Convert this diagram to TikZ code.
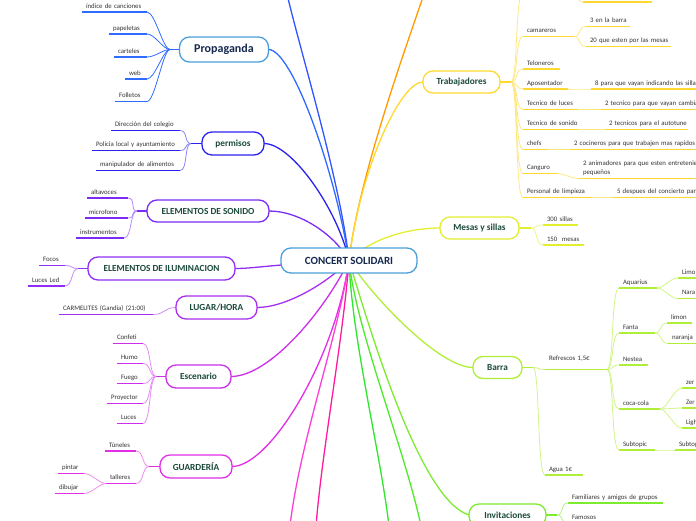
\documentclass[tikz,border=0pt]{standalone}
\usepackage{fontspec}
\setmainfont{Carlito}
\pgfdeclarelayer{bg}
\pgfsetlayers{bg,main}
\definecolor{navy}{HTML}{15294F}
\definecolor{topictxt}{HTML}{1B4A3B}
\definecolor{leaftxt}{HTML}{333333}
\definecolor{cC}{HTML}{4A9FD8}
\definecolor{cProp}{HTML}{2F6BFF}
\definecolor{cPerm}{HTML}{2A22EE}
\definecolor{cSon}{HTML}{7A2CF5}
\definecolor{cIlu}{HTML}{912EF5}
\definecolor{cLug}{HTML}{A82EF0}
\definecolor{cEsc}{HTML}{CC2EEA}
\definecolor{cGua}{HTML}{E22EE6}
\definecolor{cTra}{HTML}{FFD92E}
\definecolor{cMes}{HTML}{E2EF30}
\definecolor{cBar}{HTML}{B0EE38}
\definecolor{cInv}{HTML}{7DEB2E}
\definecolor{cBlue}{HTML}{3355FF}
\definecolor{cOrange}{HTML}{FF9A00}
\definecolor{cPink}{HTML}{FF3DD8}
\definecolor{cPinkB}{HTML}{FF1A9E}
\definecolor{cGreen}{HTML}{2EE62E}
\definecolor{cGreenB}{HTML}{4EEA2A}
\newcommand\topicfont{\bfseries\fontsize{9.3}{11}\selectfont}
\newcommand\leaffont{\fontsize{6.8}{8}\selectfont}
\tikzset{
  topic/.style={rounded corners=10pt, fill=white, line width=1.3pt, draw, text=topictxt, font=\topicfont, inner sep=0pt, outer sep=0pt},
  leaf/.style={anchor=south west, font=\leaffont, text=leaftxt, inner xsep=4pt, inner ysep=2.5pt, text height=5pt, text depth=1.5pt, align=left, outer sep=0pt, execute at begin node={\hbox\bgroup}, execute at end node={\egroup}},
  ul/.style={line width=1.8pt},
  twig/.style={line width=0.8pt},
  mainc/.style={line width=1.3pt},
}
% #1 extra options, #2 colour, #3 name, #4 x1, #5 x2, #6 y, #7 text
\newcommand\mmleaf[7][]{%
  \pgfmathsetmacro\mmw{#5-#4-8}%
  \node[leaf, text width=\mmw pt, #1] (#3) at (#4,#6) {#7};
  \draw[ul,#2] (#3.south west) -- (#3.south east);
}
\newcommand\twigL[3]{\draw[twig,#1] (#2) .. controls +(-7,0) and +(8,0) .. (#3.south east);}
\newcommand\twigR[3]{\draw[twig,#1] (#2) .. controls +(7,0) and +(-8,0) .. (#3.south west);}
\begin{document}
\begin{tikzpicture}[x=1pt,y=-1pt]
\useasboundingbox (0,0) rectangle (696,520);
\clip (0,0) rectangle (696,520);

% ---------- topics ----------
\node[topic, draw=cC, text=navy, font=\bfseries\fontsize{11}{13}\selectfont, minimum width=136pt, minimum height=25pt] (c) at (349,260.5) {CONCERT SOLIDARI};
\node[topic, draw=cC, text=navy, font=\bfseries\fontsize{12}{14}\selectfont, minimum width=89pt, minimum height=25pt] (prop) at (224,49.5) {Propaganda};
\node[topic, draw=cPerm, minimum width=62pt, minimum height=23pt] (perm) at (233,143.5) {permisos};
\node[topic, draw=cSon, minimum width=122pt, minimum height=22pt] (son) at (208,211) {ELEMENTOS DE SONIDO};
\node[topic, draw=cIlu, minimum width=147pt, minimum height=23pt] (ilu) at (161.5,268.5) {ELEMENTOS DE ILUMINACION};
\node[topic, draw=cLug, minimum width=81pt, minimum height=23pt] (lug) at (216.5,307.5) {LUGAR/HORA};
\node[topic, draw=cEsc, minimum width=65pt, minimum height=23pt] (esc) at (198.5,376.5) {Escenario};
\node[topic, draw=cGua, minimum width=72pt, minimum height=23pt] (gua) at (196,466.5) {GUARDERÍA};
\node[topic, draw=cTra, minimum width=77pt, minimum height=22pt] (tra) at (461.5,82) {Trabajadores};
\node[topic, draw=cMes, minimum width=79pt, minimum height=22pt] (mes) at (479.5,228) {Mesas y sillas};
\node[topic, draw=cBar, minimum width=49pt, minimum height=22pt] (bar) at (497.5,367.5) {Barra};
\node[topic, draw=cInv, minimum width=77pt, minimum height=22pt] (inv) at (507.5,515) {Invitaciones};

% ---------- fan points and off-screen ends ----------
\coordinate (propf) at (170,49.5);
\coordinate (permf) at (191,143.5);
\coordinate (sonf) at (137,211);
\coordinate (iluf) at (78,268.5);
\coordinate (escf) at (156,376.5);
\coordinate (guaf) at (149,466.5);
\coordinate (traf) at (511,82);
\coordinate (mesf) at (531,228);
\coordinate (barf) at (533,367.5);
\coordinate (invf) at (557,515);
\coordinate (offBlue) at (287,-6);
\coordinate (offOrange) at (424,-6);
\coordinate (offPink) at (290,526);
\coordinate (offPinkB) at (316,526);
\coordinate (offGreen) at (389,526);
\coordinate (offGreenB) at (421,526);

% ---------- leaves ----------
\mmleaf{cProp}{p1}{82}{147}{12}{índice de canciones}
\mmleaf{cProp}{p2}{109}{147}{34}{papeletas}
\mmleaf{cProp}{p3}{114}{147}{57}{carteles}
\mmleaf{cProp}{p4}{125}{147}{79}{web}
\mmleaf{cProp}{p5}{115}{147}{101.5}{Folletos}

\mmleaf{cPerm}{pm1}{111}{180}{130.5}{Dirección del colegio}
\mmleaf{cPerm}{pm2}{92}{180}{150.5}{Policia local y ayuntamiento}
\mmleaf{cPerm}{pm3}{96}{180}{170.5}{manipulador de alimentos}

\mmleaf{cSon}{so1}{87}{128}{198}{altavoces}
\mmleaf{cSon}{so2}{85}{128}{218}{microfono}
\mmleaf{cSon}{so3}{76}{124}{238}{instrumentos}

\mmleaf{cIlu}{il1}{39}{65}{265.5}{Focos}
\mmleaf{cIlu}{il2}{28}{65}{286}{Luces Led}

\mmleaf{cLug}{lg1}{59}{153}{314.5}{CARMELITES (Gandia) (21:00)}

\mmleaf{cEsc}{es1}{113}{143}{343.5}{Confeti}
\mmleaf{cEsc}{es2}{117}{143}{363.5}{Humo}
\mmleaf{cEsc}{es3}{117}{143}{383.5}{Fuego}
\mmleaf{cEsc}{es4}{107}{143}{403.5}{Proyector}
\mmleaf{cEsc}{es5}{117}{143}{423.5}{Luces}

\mmleaf{cGua}{gu1}{105}{136}{451}{Túneles}
\mmleaf{cGua}{gu2}{106}{136}{483.5}{talleres}
\mmleaf{cGua}{gu2a}{58}{84}{473.5}{pintar}
\mmleaf{cGua}{gu2b}{55}{84}{493.5}{dibujar}

\mmleaf{cTra}{tr0}{523}{575}{-8}{}
\mmleaf{cTra}{tr0a}{583}{652}{2}{}
\mmleaf{cTra}{tr1}{523}{574}{36.5}{camareros}
\mmleaf{cTra}{tr1a}{586}{630}{26.5}{3 en la barra}
\mmleaf{cTra}{tr1b}{586}{671}{46.5}{20 que esten por las mesas}
\mmleaf{cTra}{tr2}{523}{560}{69}{Teloneros}
\mmleaf{cTra}{tr3}{523}{568}{89}{Aposentador}
\mmleaf{cTra}{tr3a}{591}{705}{89}{8 para que vayan indicando las sillas}
\mmleaf{cTra}{tr4}{523}{578}{109.5}{Tecnico de luces}
\mmleaf{cTra}{tr4a}{601}{705}{109.5}{2 tecnico para que vayan cambia}
\mmleaf{cTra}{tr5}{523}{578}{129.5}{Tecnico de sonido}
\mmleaf{cTra}{tr5a}{605}{688}{129.5}{2 tecnicos para el autotune}
\mmleaf{cTra}{tr6}{523}{548}{149.5}{chefs}
\mmleaf{cTra}{tr6a}{570}{705}{149.5}{2 cocineros para que trabajen mas rapidos}
\mmleaf{cTra}{tr7}{523}{557}{173.5}{Canguro}
\mmleaf{cTra}{tr7a}{579}{705}{178.5}{\shortstack[l]{2 animadores para que esten entretenie\\pequeños}}
\mmleaf{cTra}{tr8}{523}{592}{197.5}{Personal de limpieza}
\mmleaf{cTra}{tr8a}{613}{705}{197.5}{5 despues del concierto para}

\mmleaf{cMes}{ms1}{543}{578}{225}{300 sillas}
\mmleaf{cMes}{ms2}{543}{584}{245}{150\ \ mesas}

\mmleaf[text depth=7pt]{cBar}{b1}{545}{607}{369.5}{Refrescos 1,5€}
\mmleaf{cBar}{b2}{545}{583}{475}{Agua 1€}
\mmleaf{cBar}{rf1}{619}{657}{288}{Aquarius}
\mmleaf{cBar}{rf1a}{678}{705}{278}{Limo}
\mmleaf{cBar}{rf1b}{678}{705}{298.5}{Nara}
\mmleaf{cBar}{rf2}{619}{655}{333}{Fanta}
\mmleaf{cBar}{rf2a}{667}{692}{323}{limon}
\mmleaf{cBar}{rf2b}{668}{705}{343.5}{naranja}
\mmleaf{cBar}{rf3}{619}{648}{365}{Nestea}
\mmleaf{cBar}{rf4}{619}{660}{409}{coca-cola}
\mmleaf{cBar}{rf4a}{682}{705}{388}{zer}
\mmleaf{cBar}{rf4b}{682}{705}{408}{Zer}
\mmleaf{cBar}{rf4c}{682}{705}{428}{Ligh}
\mmleaf{cBar}{rf5}{619}{655}{450}{Subtopic}
\mmleaf{cBar}{rf5a}{675}{705}{450}{Subtop}

\mmleaf{cInv}{iv1}{568}{663}{503}{Familiares y amigos de grupos}
\mmleaf{cInv}{iv2}{568}{605}{523}{Famosos}

% ---------- connectors ----------
\begin{pgfonlayer}{bg}
% main branches
\draw[mainc,cBlue] (c.center) .. controls (340,180) and (300,50) .. (offBlue);
\draw[mainc,cProp] (c.center) .. controls (335,170) and (292,49.5) .. (prop.east);
\draw[mainc,cOrange] (c.center) .. controls (358,180) and (405,50) .. (offOrange);
\draw[mainc,cTra] (c.center) .. controls (360,170) and (400,82) .. (tra.west);
\draw[mainc,cPerm] (c.center) .. controls (338,210) and (292,143.5) .. (perm.east);
\draw[mainc,cSon] (c.center) .. controls (335,235) and (300,211) .. (son.east);
\draw[mainc,cIlu] (c.center) .. controls (265,265) and (255,268.5) .. (ilu.east);
\draw[mainc,cLug] (c.center) .. controls (325,285) and (285,307.5) .. (lug.east);
\draw[mainc,cEsc] (c.center) .. controls (325,310) and (270,376.5) .. (esc.east);
\draw[mainc,cGua] (c.center) .. controls (335,360) and (270,466.5) .. (gua.east);
\draw[mainc,cPink] (c.center) .. controls (340,330) and (300,440) .. (offPink);
\draw[mainc,cPinkB] (c.center) .. controls (343,340) and (322,450) .. (offPinkB);
\draw[mainc,cGreen] (c.center) .. controls (352,340) and (380,450) .. (offGreen);
\draw[mainc,cGreenB] (c.center) .. controls (356,330) and (405,450) .. (offGreenB);
\draw[mainc,cInv] (c.center) .. controls (370,330) and (420,500) .. (inv.west);
\draw[mainc,cBar] (c.center) .. controls (375,300) and (440,367.5) .. (bar.west);
\draw[mainc,cMes] (c.center) .. controls (375,235) and (415,228) .. (mes.west);

% stubs
\draw[ul,cProp] (prop.west) -- (propf);
\draw[ul,cPerm] (perm.west) -- (permf);
\draw[ul,cSon] (son.west) -- (sonf);
\draw[ul,cIlu] (ilu.west) -- (iluf);
\draw[ul,cEsc] (esc.west) -- (escf);
\draw[ul,cGua] (gua.west) -- (guaf);
\draw[ul,cTra] (tra.east) -- (traf);
\draw[ul,cMes] (mes.east) -- (mesf);
\draw[ul,cBar] (bar.east) -- (barf);
\draw[ul,cInv] (inv.east) -- (invf);

% left twigs
\foreach \n in {p1,p2,p3,p4,p5} {\twigL{cProp}{propf}{\n}}
\foreach \n in {pm1,pm2,pm3} {\twigL{cPerm!55}{permf}{\n}}
\foreach \n in {so1,so2,so3} {\twigL{cSon!55}{sonf}{\n}}
\foreach \n in {il1,il2} {\twigL{cIlu!55}{iluf}{\n}}
\draw[twig,cLug!55] (lug.west) .. controls +(-12,0) and +(12,0) .. (lg1.south east);
\foreach \n in {es1,es2,es3,es4,es5} {\twigL{cEsc!55}{escf}{\n}}
\foreach \n in {gu1,gu2} {\twigL{cGua!55}{guaf}{\n}}
\foreach \n in {gu2a,gu2b} {\twigL{cGua!55}{gu2.south west}{\n}}

% right twigs
\foreach \n in {tr0,tr1,tr2,tr3,tr4,tr5,tr6,tr7,tr8} {\twigR{cTra!60}{traf}{\n}}
\twigR{cTra!60}{tr0.south east}{tr0a}
\twigR{cTra!60}{tr1.south east}{tr1a}
\twigR{cTra!60}{tr1.south east}{tr1b}
\twigR{cTra!60}{tr3.south east}{tr3a}
\twigR{cTra!60}{tr4.south east}{tr4a}
\twigR{cTra!60}{tr5.south east}{tr5a}
\twigR{cTra!60}{tr6.south east}{tr6a}
\twigR{cTra!60}{tr7.south east}{tr7a}
\twigR{cTra!60}{tr8.south east}{tr8a}
\foreach \n in {ms1,ms2} {\twigR{cMes!60}{mesf}{\n}}
\foreach \n in {b1,b2} {\twigR{cBar!60}{barf}{\n}}
\foreach \n in {rf1,rf2,rf3,rf4,rf5} {\twigR{cBar!60}{b1.south east}{\n}}
\twigR{cBar!60}{rf1.south east}{rf1a}
\twigR{cBar!60}{rf1.south east}{rf1b}
\twigR{cBar!60}{rf2.south east}{rf2a}
\twigR{cBar!60}{rf2.south east}{rf2b}
\twigR{cBar!60}{rf4.south east}{rf4a}
\twigR{cBar!60}{rf4.south east}{rf4b}
\twigR{cBar!60}{rf4.south east}{rf4c}
\twigR{cBar!60}{rf5.south east}{rf5a}
\foreach \n in {iv1,iv2} {\twigR{cInv!60}{invf}{\n}}
\end{pgfonlayer}
\end{tikzpicture}
\end{document}
